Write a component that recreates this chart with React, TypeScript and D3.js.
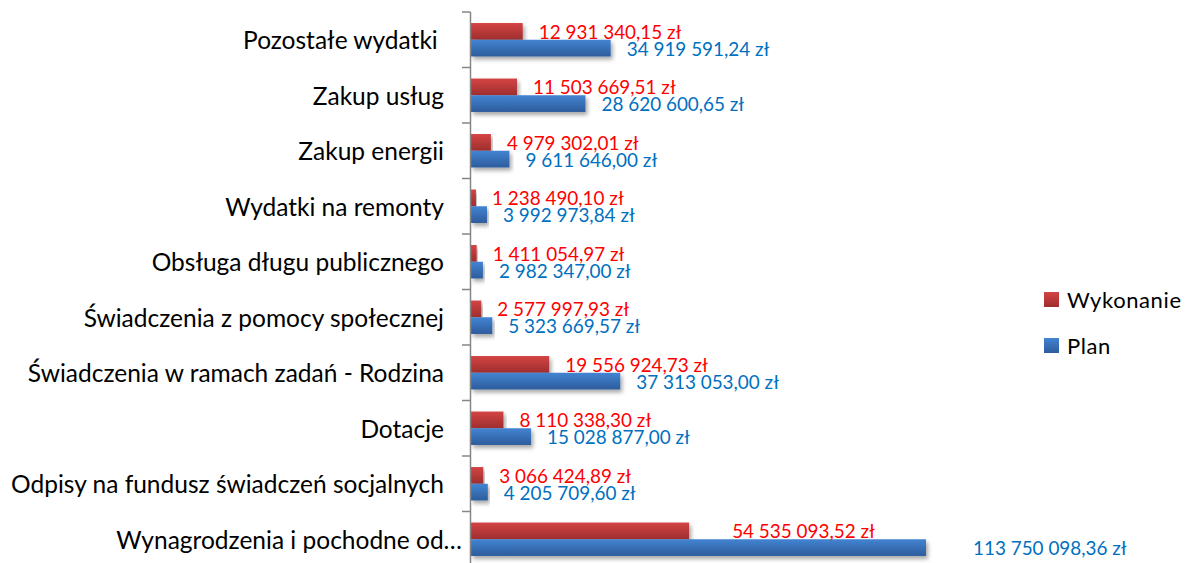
import React from "react";
import * as d3 from "d3";

const categories = [
  "Pozostałe wydatki ",
  "Zakup usług",
  "Zakup energii",
  "Wydatki na remonty",
  "Obsługa długu publicznego",
  "Świadczenia z pomocy społecznej",
  "Świadczenia w ramach zadań - Rodzina",
  "Dotacje",
  "Odpisy na fundusz świadczeń socjalnych",
  "Wynagrodzenia i pochodne od…",
];
const wykonanie = [
  12931340.15, 11503669.51, 4979302.01, 1238490.1, 1411054.97, 2577997.93,
  19556924.73, 8110338.3, 3066424.89, 54535093.52,
];
const plan = [
  34919591.24, 28620600.65, 9611646.0, 3992973.84, 2982347.0, 5323669.57,
  37313053.0, 15028877.0, 4205709.6, 113750098.36,
];
const seriesNames = ["Wykonanie", "Plan"];

// layout tweaks for labels that were moved in the original
const labelNudge: Record<string, number> = { "Wykonanie-9": 27, "Plan-9": 31 };
const catNudge: Record<number, number> = { 9: 18 };

const W = 1198;
const H = 563;
const FONT = "Lato, 'Open Sans', sans-serif";

function fmt(v: number) {
  const [i, d] = v.toFixed(2).split(".");
  const withSp = i.replace(/\B(?=(\d{3})+(?!\d))/g, " ");
  return `${withSp},${d} zł`;
}

export default function App() {
  const x = d3.scaleLinear().domain([0, 120e6]).range([471, 951]);
  const y = d3.scaleBand<string>().domain(categories).range([12, 567]).paddingInner(0).paddingOuter(0);
  const sub = d3
    .scaleBand<string>()
    .domain(seriesNames)
    .range([0, y.bandwidth()])
    .paddingInner(0)
    .paddingOuter(0.66);
  const colors: Record<string, { grad: string; text: string }> = {
    Wykonanie: { grad: "url(#gRed)", text: "#FF0000" },
    Plan: { grad: "url(#gBlue)", text: "#0070C0" },
  };
  const vals: Record<string, number[]> = { Wykonanie: wykonanie, Plan: plan };
  const x0 = x(0);

  return (
    <svg width={W} height={H} style={{ position: "absolute", left: 0, top: 0, background: "#fff" }}>
      <defs>
        <linearGradient id="gRed" x1="0" y1="0" x2="0" y2="1">
          <stop offset="0" stopColor="#d44444" />
          <stop offset="1" stopColor="#9e2e2e" />
        </linearGradient>
        <linearGradient id="gBlue" x1="0" y1="0" x2="0" y2="1">
          <stop offset="0" stopColor="#4384d2" />
          <stop offset="1" stopColor="#2d5c9c" />
        </linearGradient>
        <filter id="shadow" x="-5%" y="-30%" width="115%" height="180%">
          <feGaussianBlur in="SourceAlpha" stdDeviation="2" />
          <feOffset dx="2" dy="3" result="b" />
          <feComponentTransfer>
            <feFuncA type="linear" slope="0.35" />
          </feComponentTransfer>
          <feMerge>
            <feMergeNode />
            <feMergeNode in="SourceGraphic" />
          </feMerge>
        </filter>
      </defs>

      {/* bars */}
      {categories.map((c, i) =>
        seriesNames.map((s) => {
          const v = vals[s][i];
          const by = (y(c) as number) + (sub(s) as number);
          return (
            <rect
              key={`${s}-${i}`}
              x={x0}
              y={by}
              width={x(v) - x0}
              height={sub.bandwidth()}
              fill={colors[s].grad}
              filter="url(#shadow)"
            />
          );
        })
      )}

      {/* axis */}
      <g stroke="#868686" strokeWidth={1.5}>
        <line x1={470.5} x2={470.5} y1={12} y2={567} />
        {categories.map((c, i) => (
          <line key={i} x1={462} x2={470.5} y1={(y(c) as number)} y2={(y(c) as number)} />
        ))}
        <line x1={462} x2={470.5} y1={567} y2={567} />
      </g>

      {/* category labels */}
      {categories.map((c, i) => (
        <text
          key={c}
          x={444 + (catNudge[i] || 0)}
          y={(y(c) as number) + y.bandwidth() / 2}
          textAnchor="end"
          dominantBaseline="central"
          fontFamily={FONT}
          fontSize={24.5}
          fill="#000"
          style={{ whiteSpace: "pre" }}
        >
          {c}
        </text>
      ))}

      {/* value labels */}
      {categories.map((c, i) =>
        seriesNames.map((s) => {
          const v = vals[s][i];
          const by = (y(c) as number) + (sub(s) as number) + sub.bandwidth() / 2;
          const nudge = labelNudge[`${s}-${i}`] || 0;
          return (
            <text
              key={`l-${s}-${i}`}
              x={x(v) + 16 + nudge}
              y={by}
              dominantBaseline="central"
              fontFamily={FONT}
              fontSize={18.9}
              fill={colors[s].text}
            >
              {fmt(v)}
            </text>
          );
        })
      )}

      {/* legend */}
      {seriesNames.map((s, i) => (
        <g key={s} transform={`translate(1044, ${292 + i * 46})`}>
          <rect width={15} height={15} fill={colors[s].grad} />
          <text
            x={23}
            y={7.5}
            dominantBaseline="central"
            fontFamily={FONT}
            fontSize={22}
            letterSpacing={0.6}
            fill="#000"
          >
            {s}
          </text>
        </g>
      ))}
    </svg>
  );
}
